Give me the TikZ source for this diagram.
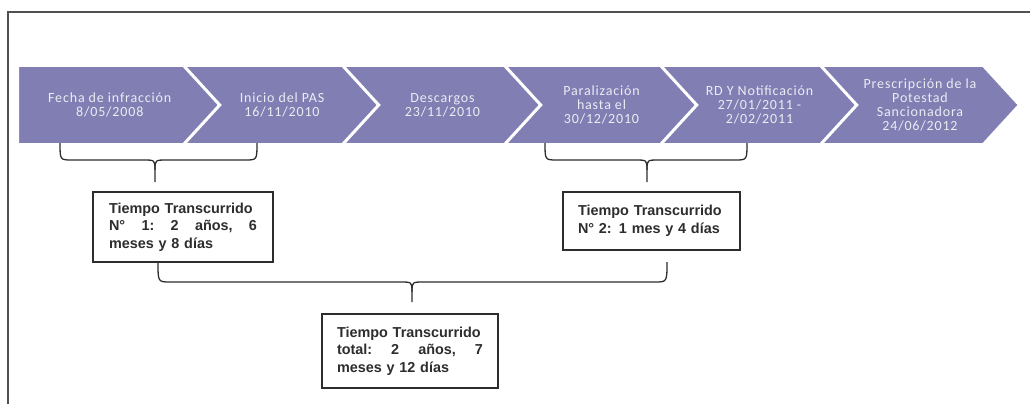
\documentclass[tikz,border=0pt]{standalone}
\usepackage{fontspec}
\setmainfont{Liberation Sans}
\newfontfamily\chevfont[LetterSpace=6]{Carlito}
\usetikzlibrary{shapes.symbols}
\definecolor{chev}{RGB}{128,126,178}
\definecolor{chevtext}{RGB}{236,236,244}
\definecolor{framec}{RGB}{80,80,80}
\definecolor{inkc}{RGB}{45,45,45}
\newcommand{\spreadline}[2]{\leavevmode\hbox to #1{#2}}
\begin{document}
\begin{tikzpicture}[x=1pt,y=-1pt,
  chevron/.style={shape=signal, signal to=east, signal from=west,
    signal pointer angle=95, fill=chev, draw=white, line width=3pt,
    minimum height=79pt, inner sep=0pt, text=chevtext,
    font=\chevfont\fontsize{14}{14}\selectfont, align=center},
  firstchev/.style={chevron, signal from=nowhere},
  brace/.style={draw=inkc, line width=1.3pt},
  tbox/.style={draw=inkc, line width=1.2pt, fill=white, text=inkc,
    font=\bfseries\fontsize{14.4}{17.5}\selectfont, align=left},
  frameline/.style={draw=framec, line width=2pt}
]
\useasboundingbox (0,0) rectangle (1030,404);
% frame
\coordinate (fl) at (8,404);
\coordinate (fc) at (8,12);
\coordinate (fr) at (1030,12);
\draw[frameline] (fl) -- (fc) -- (fr);

% chevrons
\node[firstchev, minimum width=220.5pt] (c1) at (109.75,105) {Fecha de infracción\\8/05/2008};
\node[chevron, minimum width=197pt] (c2) at (282,105) {Inicio del PAS\\16/11/2010};
\node[chevron, minimum width=200pt] (c3) at (442.5,105) {Descargos\\23/11/2010};
\node[chevron, minimum width=194pt] (c4) at (601.5,105) {Paralización\\hasta el\\30/12/2010};
\node[chevron, minimum width=198pt] (c5) at (759.5,105) {RD Y Notificación\\27/01/2011 -\\2/02/2011};
\node[chevron, minimum width=199pt] (c6) at (920,105) {Prescripción de la\\Potestad\\Sancionadora\\24/06/2012};

% boxes
\node[tbox, text width=148pt, inner xsep=16pt, minimum height=70pt] (b1) at (183,227)
  {Tiempo Transcurrido\\\spreadline{148pt}{N°\hfill 1:\hfill 2\hfill años,\hfill 6}\\meses y 8 días};
\node[tbox, text width=147pt, inner xsep=15pt, minimum height=58pt] (b2) at (651.5,221)
  {Tiempo Transcurrido\\N° 2: 1 mes y 4 días};
\node[tbox, text width=146pt, inner xsep=15pt, minimum height=74pt] (b3) at (410,351)
  {Tiempo Transcurrido\\\spreadline{146pt}{total:\hfill 2\hfill años,\hfill 7}\\meses y 12 días};

% brace 1
\coordinate (a1l) at (60,143);
\coordinate (a1r) at (257,143);
\coordinate (a1t) at (155,182);
\draw[brace] (a1l) .. controls (60,160) .. (72,160) -- (143,160) .. controls (155,160) .. (155,170) -- (a1t);
\draw[brace] (a1r) .. controls (257,160) .. (245,160) -- (167,160) .. controls (155,160) .. (155,170);
% brace 2
\coordinate (a2l) at (545,143);
\coordinate (a2r) at (747,143);
\coordinate (a2t) at (647,182);
\draw[brace] (a2l) .. controls (545,160) .. (557,160) -- (635,160) .. controls (647,160) .. (647,170) -- (a2t);
\draw[brace] (a2r) .. controls (747,160) .. (735,160) -- (659,160) .. controls (647,160) .. (647,170);
% brace 3
\coordinate (a3l) at (158,262);
\coordinate (a3r) at (667,262);
\coordinate (a3t) at (412,302);
\draw[brace] (a3l) .. controls (158,282) .. (170,282) -- (400,282) .. controls (412,282) .. (412,292) -- (a3t);
\draw[brace] (a3r) .. controls (667,282) .. (655,282) -- (424,282) .. controls (412,282) .. (412,292);
\end{tikzpicture}
\end{document}
